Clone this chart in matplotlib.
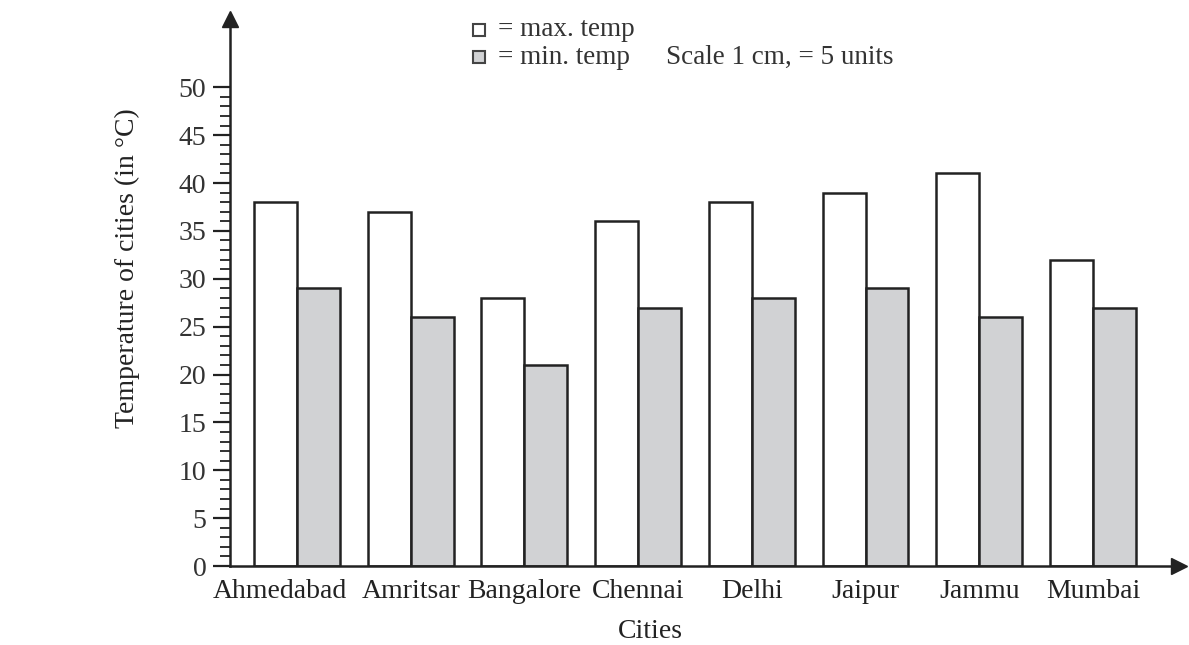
import matplotlib
matplotlib.use("Agg")
import matplotlib.pyplot as plt
import matplotlib.transforms as mtransforms
from matplotlib.patches import Rectangle
import numpy as np

# chart data
cities = ['Ahmedabad', 'Amritsar', 'Bangalore', 'Chennai', 'Delhi', 'Jaipur', 'Jammu', 'Mumbai']
max_temp = [38, 37, 28, 36, 38, 39, 41, 32]
min_temp = [29, 26, 21, 27, 28, 29, 26, 27]
y_ticks = [0, 5, 10, 15, 20, 25, 30, 35, 40, 45, 50]

plt.rcParams['font.family'] = ['Liberation Serif', 'DejaVu Serif']

W, H = 1189, 645
fig = plt.figure(figsize=(W / 100, H / 100), dpi=100)
fig.patch.set_facecolor('white')

# axes placed in pixel terms: y axis at x=230, x axis at y=566, arrow tip near top
left, right, bottom, top = 230, 1179, 645 - 566, 645 - 19
ax = fig.add_axes([left / W, bottom / H, (right - left) / W, (top - bottom) / H])

edge = '#222222'
gray = '#d1d2d4'
x = np.arange(len(cities))
bw = 0.378

ax.bar(x - bw / 2, max_temp, width=bw, color='white', edgecolor=edge, linewidth=1.8)
ax.bar(x + bw / 2, min_temp, width=bw, color=gray, edgecolor=edge, linewidth=1.8)

# group 0 centre at 297 px, 113.7 px per group
ax.set_xlim((left - 297) / 113.7, (right - 297) / 113.7)
ax.set_ylim(0, (566 - 19) / 9.574)

for s in ['top', 'right']:
    ax.spines[s].set_visible(False)
for s in ['left', 'bottom']:
    ax.spines[s].set_color(edge)
    ax.spines[s].set_linewidth(1.8)

# arrow heads
ax.plot(0, 1, marker='^', color=edge, markersize=11, transform=ax.transAxes, clip_on=False)
ax.plot(1, 0, marker='>', color=edge, markersize=11, transform=ax.transAxes, clip_on=False)

ax.set_yticks(y_ticks)
ax.set_yticks(np.arange(0, 51, 1), minor=True)
ax.tick_params(axis='y', which='major', length=12, width=1.6, color=edge,
               labelsize=20, labelcolor='#333333', pad=5)
ax.tick_params(axis='y', which='minor', length=7, width=1.3, color=edge)

ax.set_xticks(x)
ax.set_xticklabels(cities)
ax.tick_params(axis='x', length=0, labelsize=20, labelcolor='#222222', pad=9)
# Ahmedabad sits a bit left of its pair in the original
shift = mtransforms.ScaledTranslation(-0.17, 0, fig.dpi_scale_trans)
lab = ax.get_xticklabels()[0]
lab.set_transform(lab.get_transform() + shift)

ax.set_ylabel('Temperature of cities (in °C)', fontsize=20, color='#222222')
ax.yaxis.set_label_coords(-0.095, 0.545)
fig.text(650 / W, 1 - 632 / H, 'Cities', fontsize=20, color='#222222', ha='center', va='center')

# legend drawn by hand
box = 12
for yc, fc, label in [(30, 'white', '= max. temp'), (57, gray, '= min. temp')]:
    fig.patches.append(Rectangle((473 / W, 1 - (yc + box / 2) / H), box / W, box / H,
                                 facecolor=fc, edgecolor='#444444', linewidth=1.5,
                                 transform=fig.transFigure))
    fig.text(498 / W, 1 - yc / H, label, fontsize=19.5, color='#333333', va='center')
fig.text(666 / W, 1 - 57 / H, 'Scale 1 cm, = 5 units', fontsize=19.5, color='#333333', va='center')

fig.savefig('out.png', dpi=100)
